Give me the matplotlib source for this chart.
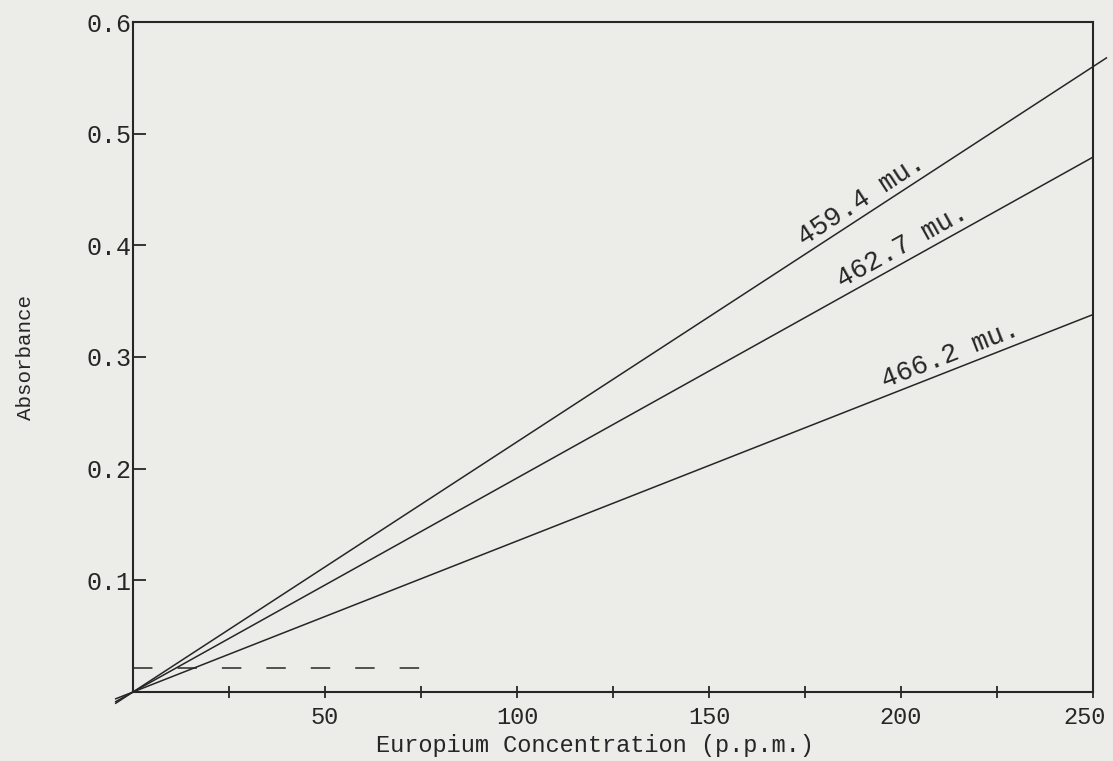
import numpy as np
import matplotlib
matplotlib.use("Agg")
import matplotlib.pyplot as plt
import matplotlib.transforms as mtransforms
from matplotlib.ticker import FixedLocator, NullFormatter

# Absorbance vs europium concentration, three wavelengths
concentration = [0, 250]
wavelengths = ["459.4 mu.", "462.7 mu.", "466.2 mu."]
absorbance = {
    "459.4 mu.": [0.0, 0.560],
    "462.7 mu.": [0.0, 0.479],
    "466.2 mu.": [0.0, 0.338],
}
blank_level = 0.0215
blank_range = [0, 79]

x_major = [50, 100, 150, 200, 250]
x_minor = [25, 75, 125, 175, 225]
y_ticks = [0.1, 0.2, 0.3, 0.4, 0.5, 0.6]

paper = "#ecece9"
ink = "#262626"
plt.rcParams["font.family"] = ["Liberation Mono", "DejaVu Sans Mono"]
plt.rcParams["lines.scale_dashes"] = False

fig = plt.figure(figsize=(11.13, 7.61), dpi=100, facecolor=paper)
ax = fig.add_axes([133 / 1113, 1 - 692 / 761, 960 / 1113, 670 / 761])
ax.set_facecolor(paper)
ax.set_xlim(0, 250)
ax.set_ylim(0, 0.6)

# where each label starts along its line, and how far it reaches past the frame
label_start = {"459.4 mu.": 175.5, "462.7 mu.": 185.5, "466.2 mu.": 196.5}
line_end = {"459.4 mu.": 253.5, "462.7 mu.": 250.0, "466.2 mu.": 250.0}

for name in wavelengths:
    slope = absorbance[name][1] / concentration[1]
    ax.plot(concentration, absorbance[name], color=ink, lw=1.1, clip_on=False)
    # the ruled lines run a little past the origin and the frame
    ax.plot([-4.5, 0], [-4.5 * slope, 0], color=ink, lw=1.1, clip_on=False)
    ax.plot([250, line_end[name]], [absorbance[name][1], slope * line_end[name]],
            color=ink, lw=1.1, clip_on=False)
    xs = label_start[name]
    angle = ax.transData.transform_angles(
        np.array([np.degrees(np.arctan(slope))]), np.array([[xs, slope * xs]]))[0]
    ax.annotate(name, (xs, slope * xs), xytext=(0, 1.5), textcoords="offset points",
                rotation=angle, rotation_mode="anchor", ha="left", va="bottom",
                fontsize=19.5, color=ink)

ax.plot(blank_range, [blank_level, blank_level], color=ink, lw=1.1,
        dashes=(14, 18))

for s in ax.spines.values():
    s.set_color(ink)
    s.set_linewidth(1.5)

ax.xaxis.set_major_locator(FixedLocator(x_major))
ax.xaxis.set_minor_locator(FixedLocator(x_minor))
ax.xaxis.set_minor_formatter(NullFormatter())
ax.set_xticklabels([str(v) for v in x_major])
ax.tick_params(axis="x", which="both", direction="inout", length=8, width=1.3,
               color=ink, labelsize=17, labelcolor=ink, pad=6)
# the last label sits a little left of its tick, inside the page
last = ax.get_xticklabels()[-1]
last.set_transform(last.get_transform() +
                   mtransforms.ScaledTranslation(-8 / 100, 0, fig.dpi_scale_trans))

ax.yaxis.set_major_locator(FixedLocator(y_ticks))
ax.set_yticklabels([f"{v:.1f}" for v in y_ticks])
ax.tick_params(axis="y", direction="in", length=9, width=1.3, color=ink,
               labelsize=18, labelcolor=ink, pad=1)
ax.tick_params(top=False, right=False)

ax.set_xlabel("Europium Concentration (p.p.m.)", fontsize=17, color=ink)
ax.xaxis.set_label_coords(0.481, -0.062)
ax.set_ylabel("Absorbance", fontsize=15, color=ink)
ax.yaxis.set_label_coords(-0.102, 0.5)

fig.savefig("out.png", dpi=100, facecolor=paper)
